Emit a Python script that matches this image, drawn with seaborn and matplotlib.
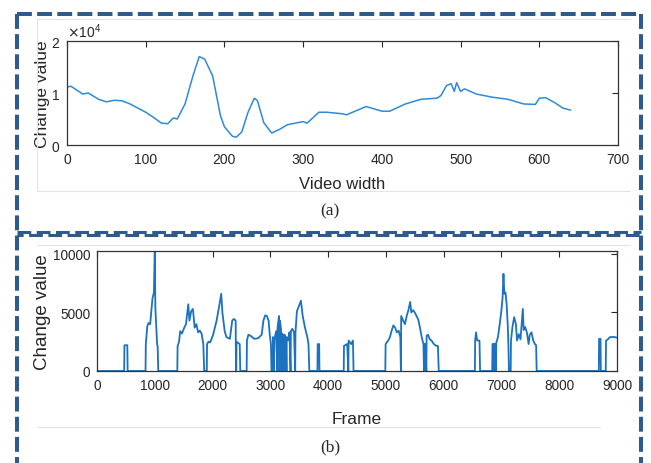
import pandas as pd
import matplotlib
matplotlib.use("Agg")
import matplotlib.pyplot as plt
import seaborn as sns
from matplotlib.lines import Line2D

# (a) change value along the video width
video_x = [0, 5, 10, 20, 27, 40, 50, 60, 70, 80, 100, 110, 120, 128, 135, 140,
           150, 160, 168, 175, 185, 195, 200, 210, 215, 222, 230, 238, 242, 250,
           260, 270, 280, 300, 305, 320, 330, 350, 355, 380, 400, 410, 430, 450,
           470, 475, 482, 488, 492, 495, 500, 505, 520, 540, 560, 580, 595, 600,
           608, 620, 630, 640]
change_a = [11150, 11300, 10800, 9800, 10000, 8800, 8300, 8600, 8500, 7900, 6300,
            5300, 4200, 4100, 5200, 5000, 7900, 13300, 17000, 16500, 13300, 5600,
            3500, 1700, 1500, 2500, 6300, 9000, 8500, 4300, 2300, 3000, 3900, 4500,
            4200, 6300, 6300, 6000, 5800, 7400, 6500, 6500, 7900, 8800, 9000, 9500,
            11400, 11800, 10300, 12000, 10300, 10800, 9800, 9200, 8800, 7900, 7800,
            9000, 9100, 8100, 7100, 6700]

# (b) change value per frame
frame_b = [0, 470, 475, 525, 530, 840, 845, 870, 890, 920, 940, 960, 985, 1000, 1010,
           1040, 1050, 1060, 1390, 1395, 1420, 1440, 1470, 1510, 1540, 1580, 1600,
           1630, 1660, 1690, 1720, 1750, 1780, 1810, 1840, 1855, 1900, 1905, 1930,
           1960, 2010, 2070, 2120, 2150, 2170, 2210, 2240, 2300, 2340, 2370, 2400,
           2405, 2410, 2415, 2470, 2480, 2590, 2595, 2620, 2660, 2720, 2790, 2850,
           2880, 2910, 2940, 2970, 2990, 3010, 3020, 3040, 3045, 3060, 3070, 3100,
           3120, 3125, 3150, 3160, 3165, 3185, 3200, 3205, 3230, 3240, 3245, 3270,
           3280, 3285, 3310, 3330, 3350, 3355, 3380, 3410, 3430, 3435, 3460, 3530,
           3560, 3600, 3640, 3660, 3675, 3815, 3820, 3845, 3850, 4270, 4275, 4330,
           4350, 4355, 4400, 4430, 4440, 4990, 4995, 5040, 5070, 5100, 5130, 5160,
           5190, 5220, 5250, 5260, 5265, 5300, 5330, 5360, 5390, 5420, 5440, 5470,
           5500, 5530, 5560, 5590, 5620, 5650, 5660, 5665, 5680, 5685, 5700, 5705,
           5730, 5760, 5790, 5830, 5870, 5900, 5915, 6540, 6545, 6560, 6580, 6620,
           6630, 6840, 6845, 6870, 6875, 6880, 6900, 6905, 6910, 6940, 6970, 7000,
           7020, 7035, 7050, 7070, 7090, 7110, 7120, 7130, 7160, 7165, 7190, 7220,
           7250, 7270, 7300, 7330, 7370, 7385, 7410, 7440, 7470, 7490, 7520, 7550,
           7580, 7600, 7610, 8685, 8690, 8715, 8720, 8805, 8810, 8840, 8880, 8950,
           9000]
change_b = [0, 0, 2200, 2200, 0, 0, 2300, 3800, 4100, 4000, 5100, 6200, 6700, 10400,
            5400, 2300, 2100, 0, 0, 2100, 2500, 3400, 3200, 3700, 4000, 5700, 4300,
            5100, 5300, 3700, 4000, 3300, 3450, 3200, 2300, 0, 0, 2300, 2500, 2450,
            3100, 4300, 5700, 6600, 5000, 3400, 2900, 2750, 4300, 4450, 4300, 0, 0,
            2500, 2300, 0, 0, 2600, 3100, 3000, 2750, 2800, 3100, 4300, 4750, 4700,
            4300, 3100, 2300, 0, 0, 2900, 0, 2700, 3400, 0, 3700, 4700, 0, 4300,
            3600, 0, 3200, 2900, 0, 3100, 2700, 0, 2900, 2650, 3300, 0, 3400, 3600,
            3300, 0, 3300, 5100, 6000, 4700, 3700, 2900, 2300, 0, 0, 2300, 2300, 0,
            0, 2150, 2300, 0, 2600, 2300, 2600, 0, 0, 2300, 2600, 2900, 3450, 3900,
            3700, 3300, 3450, 2900, 0, 4700, 4300, 4000, 4700, 5200, 5900, 5000,
            5200, 5000, 4700, 4400, 3700, 2900, 2300, 0, 2300, 0, 2300, 0, 3000,
            3100, 2700, 2600, 2300, 2150, 2150, 0, 0, 2600, 3300, 2600, 2600, 0, 0,
            2300, 2300, 0, 2300, 2300, 0, 2400, 2900, 4000, 5200, 6300, 8300, 6600,
            6700, 5700, 3800, 2300, 0, 0, 2600, 3750, 4600, 4000, 2600, 3150, 2700,
            5300, 3500, 3750, 3300, 2300, 3100, 3300, 2600, 2300, 2200, 0, 0, 2750,
            2750, 0, 0, 2600, 2700, 2900, 2900, 2850]

df_a = pd.DataFrame({"Video width": video_x, "Change value": change_a})
df_b = pd.DataFrame({"Frame": frame_b, "Change value": change_b})

sns.set_style("white")
plt.rcParams["font.family"] = ["Liberation Sans", "DejaVu Sans"]

W, H = 651, 464
fig = plt.figure(figsize=(W / 100, H / 100), dpi=100)


def box(l, t, r, b):
    return fig.add_axes([l / W, 1 - b / H, (r - l) / W, (b - t) / H])


def style_axes(ax, size):
    ax.tick_params(direction="in", top=True, right=True, length=4, width=0.8,
                   labelsize=size, colors="#262626", pad=5)
    for s in ax.spines.values():
        s.set_color("#333333")
        s.set_linewidth(0.9)


# panel (a)
ax1 = box(67, 42, 618, 146)
sns.lineplot(data=df_a, x="Video width", y="Change value", ax=ax1,
             color="#2F8AD6", linewidth=1.1)
ax1.set_xlim(0, 700)
ax1.set_ylim(0, 20000)
ax1.set_xticks(range(0, 701, 100))
ax1.set_yticks([0, 10000, 20000])
ax1.ticklabel_format(axis="y", style="sci", scilimits=(0, 0), useMathText=True)
ax1.yaxis.get_offset_text().set_fontsize(10)
ax1.yaxis.get_offset_text().set_color("#555555")
style_axes(ax1, 10)
ax1.set_xlabel("Video width", fontsize=12)
ax1.set_ylabel("Change value", fontsize=12.5)
ax1.xaxis.set_label_coords(0.5, -0.30)
ax1.yaxis.set_label_coords(-0.031, 0.5)

# panel (b)
ax2 = box(97, 252, 617, 372)
sns.lineplot(data=df_b, x="Frame", y="Change value", ax=ax2,
             color="#1A72C0", linewidth=1.3)
ax2.set_xlim(0, 9000)
ax2.set_ylim(0, 10250)
ax2.set_xticks(range(0, 9001, 1000))
ax2.set_yticks([0, 5000, 10000])
style_axes(ax2, 9.8)
ax2.set_xlabel("Frame", fontsize=12.5)
ax2.set_ylabel("Change value", fontsize=13.5)
ax2.xaxis.set_label_coords(0.5, -0.33)
ax2.yaxis.set_label_coords(-0.088, 0.5)

# captions
fig.text(330 / W, 1 - 211 / H, "(a)", ha="center", va="center", fontsize=12.5,
         family=["Liberation Serif", "DejaVu Serif"])
fig.text(330 / W, 1 - 447 / H, "(b)", ha="center", va="center", fontsize=12.5,
         family=["Liberation Serif", "DejaVu Serif"])

# faint figure frames
grey = "#e3e3e3"
for xs, ys in [([37, 630], [20, 20]), ([37, 37], [20, 192]), ([37, 630], [192, 192]),
               ([37, 630], [246, 246]), ([37, 600], [428, 428])]:
    fig.add_artist(Line2D([x / W for x in xs], [1 - y / H for y in ys],
                          color=grey, lw=0.8))

# dashed blue borders
blue = "#2E5A8C"
outer = dict(color=blue, lw=2.9, linestyle=(0, (3.7, 1.3)), solid_capstyle="butt")
for xs, ys in [([17, 641], [15, 15]), ([17, 17], [15, 464]),
               ([641, 641], [15, 464])]:
    fig.add_artist(Line2D([x / W for x in xs], [1 - y / H for y in ys], **outer))
# double dashed line between the two panels
for y, off in [(233, 0), (236, 2.5)]:
    fig.add_artist(Line2D([17 / W, 641 / W], [1 - y / H] * 2, color=blue, lw=2.2,
                          linestyle=(off, (4.5, 1.8)), solid_capstyle="butt"))

fig.savefig("out.png", dpi=100)
